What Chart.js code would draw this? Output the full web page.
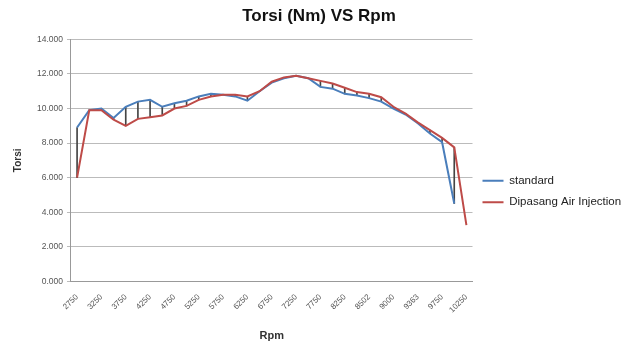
<!DOCTYPE html>
<html>
<head>
<meta charset="utf-8">
<script src="https://cdn.jsdelivr.net/npm/chart.js@4.4.1/dist/chart.umd.min.js"></script>
<style>
  html, body { margin: 0; padding: 0; background: #fff; }
</style>
</head>
<body>
<canvas id="torsiChart" width="638" height="343"></canvas>
<script>
// data torsi vs rpm //
const rpm = ['2750', '3000', '3250', '3500', '3750', '4000', '4250', '4500', '4750', '5000',
  '5250', '5500', '5750', '6000', '6250', '6500', '6750', '7000', '7250', '7500',
  '7750', '8000', '8250', '8375', '8502', '8750', '9000', '9250', '9363', '9500',
  '9750', '10000', '10250'];

const standard = [8.9, 9.9, 10.0, 9.45, 10.1, 10.4, 10.5, 10.1, 10.3, 10.45,
  10.7, 10.85, 10.8, 10.7, 10.45, 11.0, 11.5, 11.75, 11.9, 11.75,
  11.25, 11.15, 10.85, 10.75, 10.6, 10.4, 10.0, 9.65, 9.15, 8.55,
  8.05, 4.5, null];

const airInjection = [6.0, 9.9, 9.9, 9.35, 9.0, 9.4, 9.5, 9.6, 10.0, 10.15,
  10.5, 10.7, 10.8, 10.8, 10.7, 11.0, 11.55, 11.8, 11.9, 11.75,
  11.6, 11.45, 11.2, 10.95, 10.85, 10.65, 10.1, 9.7, 9.2, 8.75,
  8.3, 7.75, 3.25];

// garis high-low antara kedua seri
const highLow = rpm.map((r, i) => {
  if (standard[i] == null || airInjection[i] == null) return null;
  return [Math.min(standard[i], airInjection[i]), Math.max(standard[i], airInjection[i])];
});

const fontFam = '"Liberation Sans", Arial, sans-serif';

var ctx = document.getElementById("torsiChart").getContext('2d');

var myChart = new Chart(ctx, {
  data: {
    labels: rpm,
    datasets: [{
      type: 'line',
      label: 'standard',
      data: standard,
      borderColor: '#4A7EBB',
      backgroundColor: '#4A7EBB',
      borderWidth: 2,
      pointRadius: 0,
      tension: 0,
      order: 2
    }, {
      type: 'line',
      label: 'Dipasang Air Injection',
      data: airInjection,
      borderColor: '#BE4B48',
      backgroundColor: '#BE4B48',
      borderWidth: 2,
      pointRadius: 0,
      tension: 0,
      order: 1
    }, {
      type: 'bar',
      label: 'highlow',
      data: highLow,
      backgroundColor: '#444',
      barThickness: 1,
      grouped: false,
      order: 3
    }]
  },
  options: {
    responsive: false,
    animation: false,
    layout: {
      padding: { left: 12, right: 12, top: 4, bottom: 0 }
    },
    plugins: {
      legend: {
        display: true,
        position: 'right',
        title: {
          display: true,
          text: ' ',
          font: { size: 10 },
          padding: 12
        },
        labels: {
          usePointStyle: true,
          pointStyle: 'line',
          pointStyleWidth: 21,
          padding: 10,
          color: '#222',
          font: { family: fontFam, size: 11.5 },
          filter: function(item) { return item.text !== 'highlow'; },
          sort: function(a, b) { return a.datasetIndex - b.datasetIndex; }
        }
      },
      tooltip: { enabled: false },
      title: {
        display: true,
        text: 'Torsi (Nm) VS Rpm',
        color: '#111',
        font: { family: fontFam, size: 17, weight: 'bold' },
        padding: { top: 2, bottom: 13 }
      }
    },
    scales: {
      x: {
        offset: true,
        grid: { display: false },
        border: { display: true, color: '#999' },
        ticks: {
          autoSkip: false,
          minRotation: 45,
          maxRotation: 45,
          color: '#555',
          font: { family: fontFam, size: 8 },
          callback: function(value, index) {
            return index % 2 === 0 ? this.getLabelForValue(value) : '';
          }
        },
        title: {
          display: true,
          text: 'Rpm',
          color: '#333',
          font: { family: fontFam, size: 11, weight: 'bold' },
          padding: { top: 12, bottom: 0 }
        }
      },
      y: {
        min: 0,
        max: 14,
        grid: { color: '#bbb', lineWidth: 1, tickLength: 4 },
        border: { display: true, color: '#999' },
        ticks: {
          stepSize: 2,
          color: '#555',
          padding: 4,
          font: { family: fontFam, size: 8.5 },
          callback: function(value) { return value.toFixed(3); }
        },
        title: {
          display: true,
          text: 'Torsi',
          color: '#333',
          font: { family: fontFam, size: 10, weight: 'bold' },
          padding: { top: 0, bottom: 9 }
        }
      }
    }
  }
});
</script>
</body>
</html>
